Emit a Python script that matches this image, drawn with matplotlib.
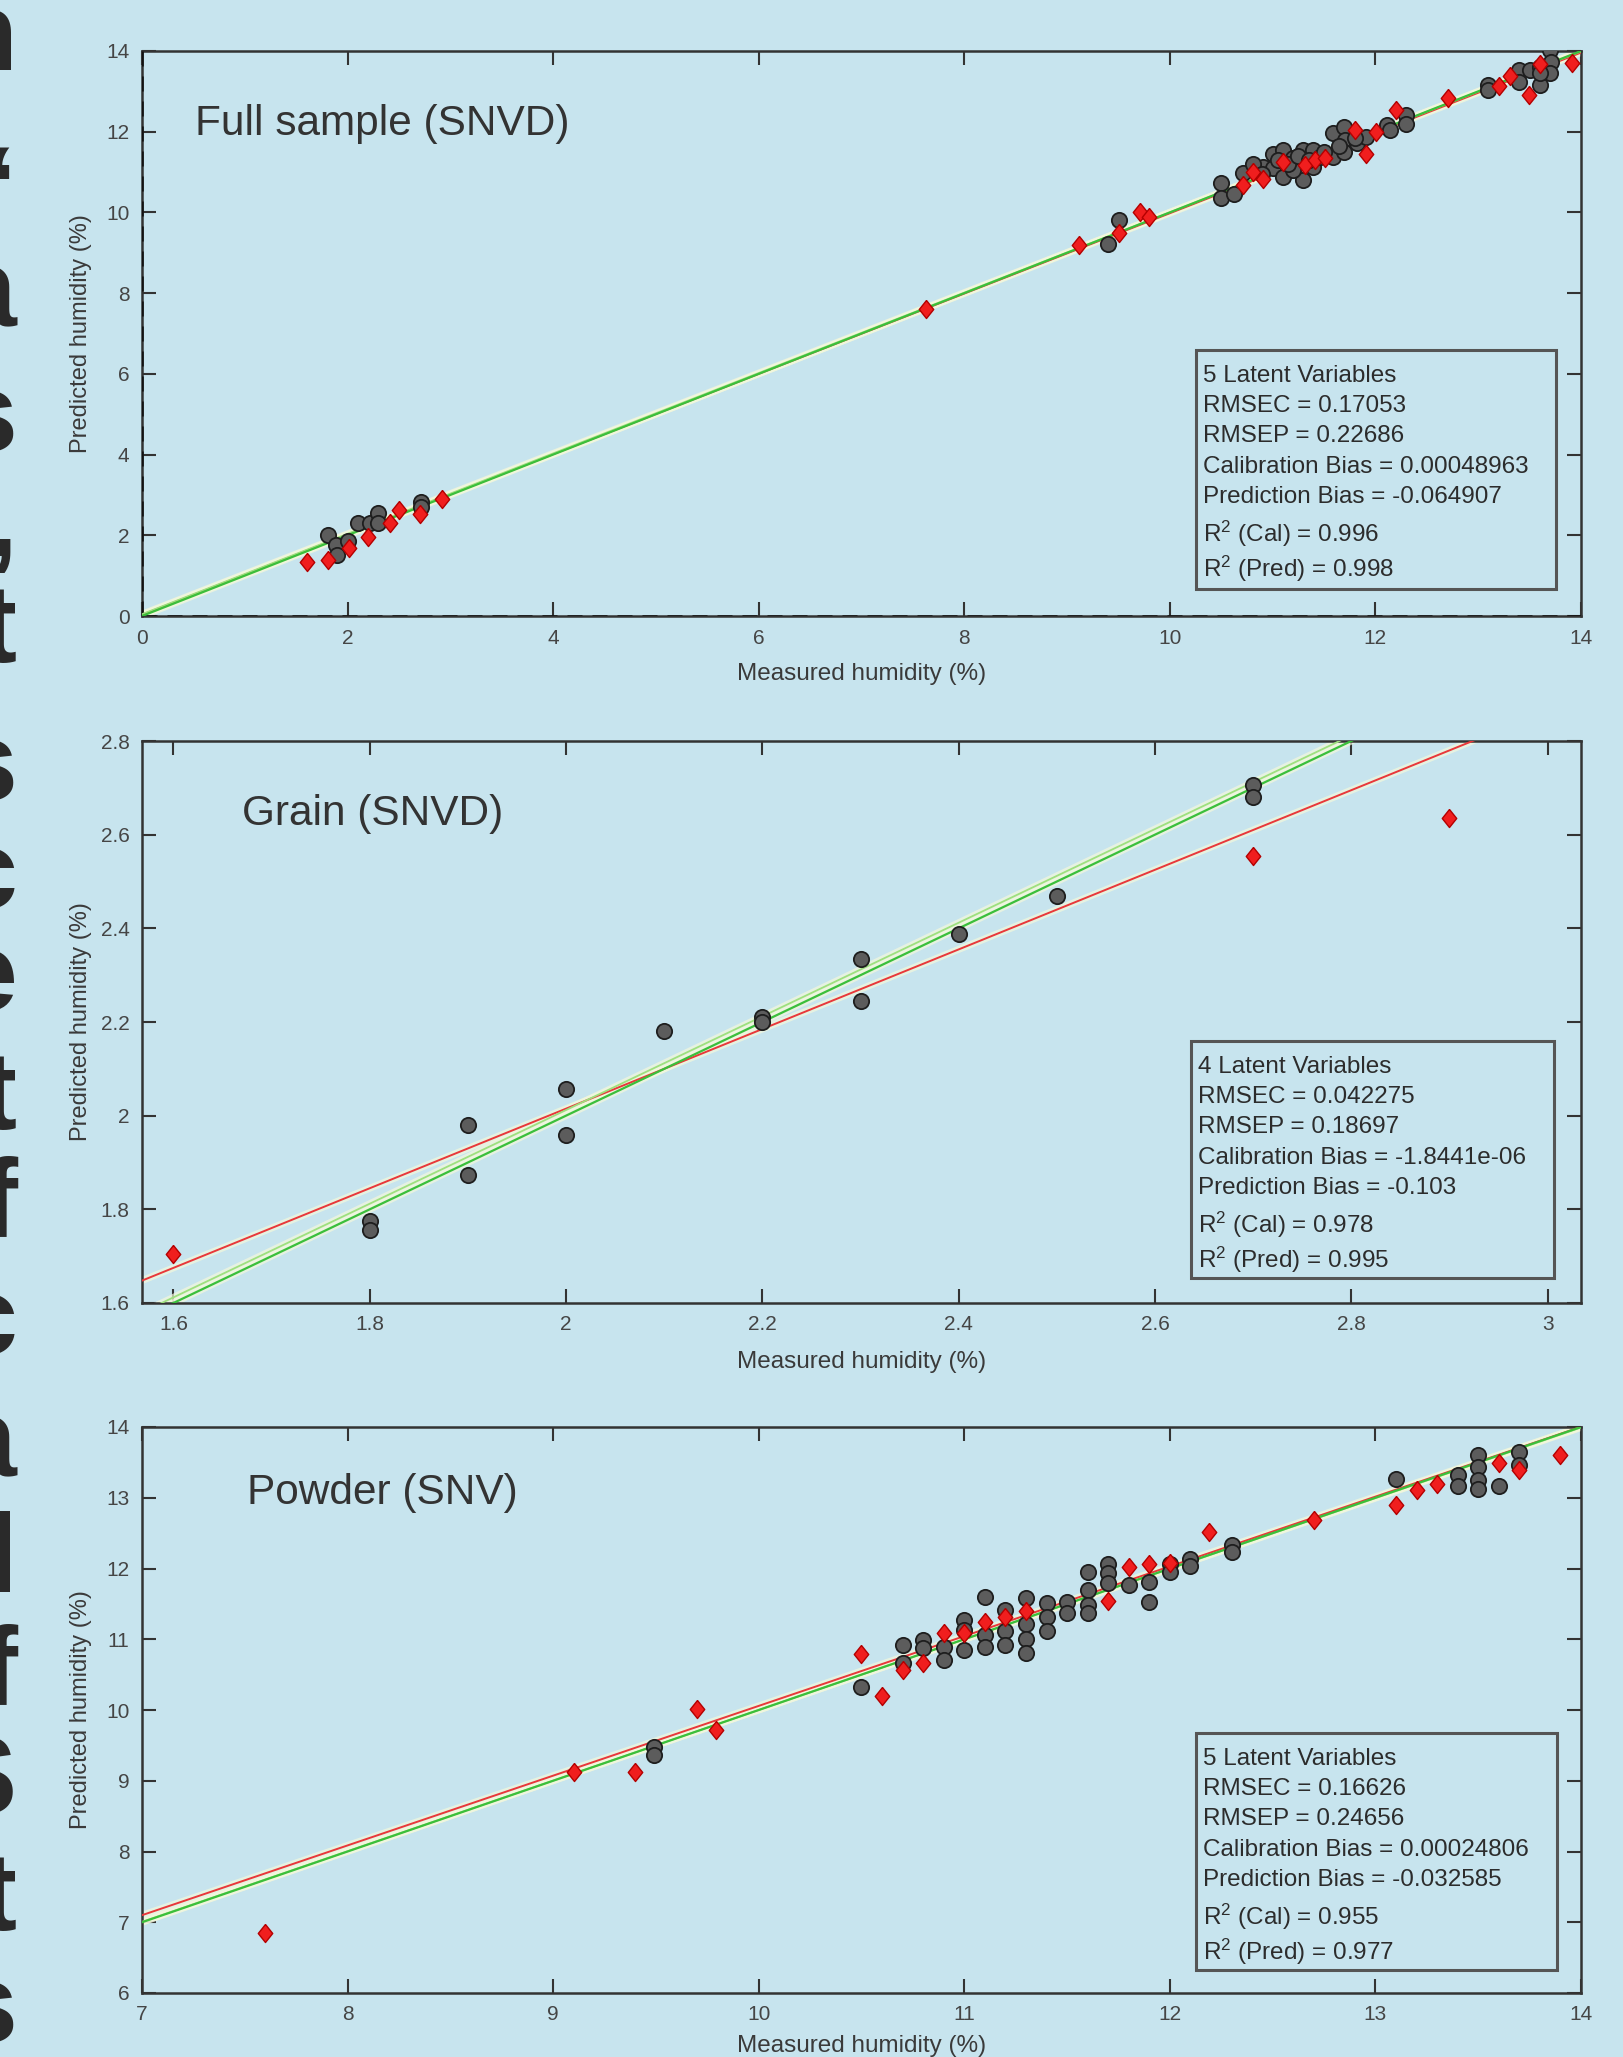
import matplotlib
matplotlib.use('Agg')
import matplotlib.pyplot as plt
from matplotlib.patches import Rectangle
import numpy as np

W, H = 1624, 2057
BG = '#c7e4ee'

# ---------------- data ----------------
# Panel 1: Full sample (SNVD)
full_cal_x = [1.81, 1.89, 1.90, 2.00, 2.10, 2.22, 2.30, 2.30, 2.71, 2.71,
              9.40, 9.51,
              10.50, 10.50, 10.62, 10.71, 11.00, 11.10, 10.91, 11.00, 11.10, 11.20,
              11.30, 11.39, 11.30, 11.20, 11.39, 11.46, 11.59, 11.59, 11.69, 11.70,
              11.69, 11.82, 11.91, 12.11, 12.14, 12.30, 12.30, 10.81, 10.90, 11.05,
              11.15, 11.25, 11.35, 11.50, 11.65, 11.80,
              13.10, 13.10, 13.40, 13.40, 13.50, 13.60, 13.70, 13.71, 13.70, 13.60, 13.60]
full_cal_y = [2.01, 1.76, 1.51, 1.85, 2.30, 2.31, 2.54, 2.30, 2.83, 2.71,
              9.23, 9.80,
              10.72, 10.35, 10.46, 10.97, 11.46, 11.54, 11.13, 11.09, 10.89, 11.34,
              11.54, 11.54, 10.80, 11.05, 11.13, 11.38, 11.38, 11.96, 12.12, 11.79,
              11.50, 11.71, 11.88, 12.16, 12.04, 12.41, 12.20, 11.20, 10.95, 11.30,
              11.20, 11.40, 11.30, 11.50, 11.65, 11.85,
              13.16, 13.03, 13.53, 13.24, 13.53, 13.61, 14.02, 13.73, 13.45, 13.16, 13.45]
full_pred_x = [1.61, 1.81, 2.01, 2.20, 2.41, 2.50, 2.70, 2.92, 7.63,
               9.12, 9.51, 9.71, 9.80, 10.71, 10.81, 10.91, 11.10, 11.31, 11.41,
               11.51, 11.80, 11.91, 12.01, 12.20, 12.71, 13.20, 13.31, 13.49, 13.60, 13.91]
full_pred_y = [1.35, 1.39, 1.68, 1.95, 2.31, 2.63, 2.53, 2.89, 7.60,
               9.19, 9.50, 10.02, 9.89, 10.68, 11.01, 10.84, 11.26, 11.18, 11.30,
               11.34, 12.04, 11.46, 12.00, 12.54, 12.83, 13.13, 13.38, 12.91, 13.69, 13.71]

# Panel 2: Grain (SNVD)
grain_cal_x = [1.80, 1.80, 1.90, 1.90, 2.00, 2.00, 2.10, 2.20, 2.20, 2.30, 2.30, 2.40, 2.50, 2.70, 2.70]
grain_cal_y = [1.775, 1.755, 1.98, 1.874, 2.058, 1.958, 2.18, 2.211, 2.20, 2.335, 2.245, 2.387, 2.47, 2.707, 2.68]
grain_pred_x = [1.60, 2.70, 2.90]
grain_pred_y = [1.704, 2.555, 2.635]

# Panel 3: Powder (SNV)
powder_cal_x = [9.49, 9.49, 10.50, 10.70, 10.70, 10.80, 10.80, 10.90, 10.90, 11.00, 11.00, 11.00,
                11.10, 11.10, 11.10, 11.20, 11.20, 11.20, 11.30, 11.30, 11.30, 11.30,
                11.40, 11.40, 11.40, 11.50, 11.50, 11.60, 11.60, 11.60, 11.60,
                11.70, 11.70, 11.70, 11.80, 11.90, 11.90, 12.00, 12.00, 12.10, 12.10,
                12.30, 12.30, 13.10, 13.40, 13.40, 13.50, 13.50, 13.50, 13.50,
                13.60, 13.70, 13.70]
powder_cal_y = [9.48, 9.36, 10.33, 10.92, 10.66, 10.99, 10.87, 10.89, 10.71, 11.27, 11.13, 10.85,
                11.60, 11.06, 10.89, 11.41, 11.11, 10.92, 11.58, 11.22, 11.01, 10.80,
                11.51, 11.32, 11.11, 11.53, 11.37, 11.95, 11.70, 11.48, 11.37,
                12.07, 11.93, 11.79, 11.77, 11.81, 11.52, 12.07, 11.95, 12.14, 12.03,
                12.33, 12.24, 13.27, 13.32, 13.16, 13.60, 13.44, 13.25, 13.13,
                13.16, 13.65, 13.46]
powder_pred_x = [7.60, 9.10, 9.40, 9.70, 9.79, 10.50, 10.60, 10.70, 10.80, 10.90, 11.00, 11.10,
                 11.20, 11.30, 11.70, 11.80, 11.90, 12.00, 12.19, 12.70, 13.10, 13.20,
                 13.30, 13.60, 13.70, 13.90]
powder_pred_y = [6.85, 9.13, 9.12, 10.02, 9.72, 10.79, 10.20, 10.57, 10.67, 11.09, 11.09, 11.24,
                 11.32, 11.40, 11.54, 12.02, 12.07, 12.08, 12.52, 12.68, 12.90, 13.11,
                 13.19, 13.49, 13.39, 13.60]

# fitted lines: (slope, intercept)
full_lines = {'target': (1.0, 0.0), 'cal': (0.996, 0.045), 'pred': (0.995, 0.03)}
grain_lines = {'target': (1.0, 0.0), 'cal': (1.0, 0.012), 'pred': (0.85, 0.315)}
powder_lines = {'target': (1.0, 0.0), 'cal': (0.998, 0.02), 'pred': (0.986, 0.198)}

stats_full = ['5 Latent Variables', 'RMSEC = 0.17053', 'RMSEP = 0.22686',
              'Calibration Bias = 0.00048963', 'Prediction Bias = -0.064907',
              'R$^{2}$ (Cal) = 0.996', 'R$^{2}$ (Pred) = 0.998']
stats_grain = ['4 Latent Variables', 'RMSEC = 0.042275', 'RMSEP = 0.18697',
               'Calibration Bias = -1.8441e-06', 'Prediction Bias = -0.103',
               'R$^{2}$ (Cal) = 0.978', 'R$^{2}$ (Pred) = 0.995']
stats_powder = ['5 Latent Variables', 'RMSEC = 0.16626', 'RMSEP = 0.24656',
                'Calibration Bias = 0.00024806', 'Prediction Bias = -0.032585',
                'R$^{2}$ (Cal) = 0.955', 'R$^{2}$ (Pred) = 0.977']

full_ticks = [0, 2, 4, 6, 8, 10, 12, 14]
full_ticklabels = ['0', '2', '4', '6', '8', '10', '12', '14']
grain_ticks = [1.6, 1.8, 2.0, 2.2, 2.4, 2.6, 2.8]
grain_yticklabels = ['1.6', '1.8', '2', '2.2', '2.4', '2.6', '2.8']
grain_xticks = [1.6, 1.8, 2.0, 2.2, 2.4, 2.6, 2.8, 3.0]
grain_xticklabels = ['1.6', '1.8', '2', '2.2', '2.4', '2.6', '2.8', '3']
powder_xticks = [7, 8, 9, 10, 11, 12, 13, 14]
powder_yticks = [6, 7, 8, 9, 10, 11, 12, 13, 14]

# last visible characters of the slide's text lines, cut by the left edge
left_chars = ['n', '\u201c', 'a', 's', ',', 't', 's', 'c', 'e', 't', 'f', 'c', 'a', 'l', 'f', 'S', 't', 's']
left_char_base = [70, 224, 326, 451, 556, 662, 800, 908, 1010, 1129, 1236, 1354, 1476, 1592, 1704, 1814, 1930, 2042]

# ---------------- style ----------------
plt.rcParams['font.family'] = ['Liberation Sans', 'DejaVu Sans']
plt.rcParams['mathtext.default'] = 'regular'

fig = plt.figure(figsize=(W / 100, H / 100), dpi=100, facecolor=BG)


def fx(x):
    return x / W


def fy(y):
    return 1 - y / H


DIAM = [(0, 1), (0.8, 0), (0, -1), (-0.8, 0), (0, 1)]
TXT = '#2c2c2c'


def make_axes(top, bottom):
    ax = fig.add_axes([fx(142), fy(bottom), (1581 - 142) / W, (bottom - top) / H])
    ax.set_facecolor('none')
    for s in ax.spines.values():
        s.set_color('#333333')
        s.set_linewidth(1.8)
    ax.tick_params(direction='in', length=10, width=1.5, colors='#333333',
                   labelcolor='#454545', labelsize=15, top=True, right=True, pad=9)
    return ax


def draw_lines(ax, lines, xlo, xhi):
    xs = np.array([xlo, xhi])
    for key in ['pred', 'cal', 'target']:
        m, b = lines[key]
        ax.plot(xs, m * xs + b, color='#f4f8dc', lw=5, alpha=0.7, zorder=2, solid_capstyle='butt')
    for key, col, lw in [('pred', '#e8383a', 1.4), ('cal', '#9ee07e', 1.3), ('target', '#3bbf3b', 1.6)]:
        m, b = lines[key]
        ax.plot(xs, m * xs + b, color=col, lw=lw, zorder=3)


def draw_points(ax, cx, cy, px, py):
    ax.plot(cx, cy, 'o', ms=11, mfc='#5c5c5c', mec='#1e1e1e', mew=1.3, zorder=4, ls='none')
    ax.plot(px, py, marker=DIAM, ms=13, mfc='#f01e1e', mec='#b40000', mew=1.0, zorder=5, ls='none')


def stat_box(left, top, right, bottom, lines):
    fig.add_artist(Rectangle((fx(left), fy(bottom)), (right - left) / W, (bottom - top) / H,
                             transform=fig.transFigure, fill=False, edgecolor='#555555', lw=2.2))
    offs = [32, 62, 92, 123, 153, 192, 227]
    for t, o in zip(lines, offs):
        fig.text(fx(left + 7), fy(top + o), t, fontsize=17.5, color=TXT, va='baseline', ha='left')


def label_axes(ax, xlab_y, top, bottom):
    ax.set_xlabel('Measured humidity (%)', fontsize=17.5, color='#3a3a3a')
    ax.xaxis.set_label_coords(0.5, -(xlab_y - bottom) / (bottom - top))
    ax.xaxis.label.set_va('center')
    ax.set_ylabel('Predicted humidity (%)', fontsize=17, color='#3a3a3a')
    ax.yaxis.set_label_coords(-(142 - 81) / 1439, 0.5)
    ax.yaxis.label.set_va('center')


# Panel 1
ax1 = make_axes(51, 616)
ax1.set_xlim(0, 14)
ax1.set_ylim(0, 14)
ax1.set_xticks(full_ticks, full_ticklabels)
ax1.set_yticks(full_ticks, full_ticklabels)
ax1.axhline(0, color='#111111', lw=1.8, dashes=(6, 4), zorder=3)
ax1.axvline(0, color='#111111', lw=1.8, dashes=(6, 4), zorder=3)
draw_lines(ax1, full_lines, 0, 14)
draw_points(ax1, full_cal_x, full_cal_y, full_pred_x, full_pred_y)
label_axes(ax1, 674, 51, 616)
fig.text(fx(195), fy(135), 'Full sample (SNVD)', fontsize=30.5, color='#333333', va='baseline')
stat_box(1196, 350, 1556, 589, stats_full)

# Panel 2
ax2 = make_axes(741, 1303)
ax2.set_xlim(1.568, 3.034)
ax2.set_ylim(1.6, 2.8)
ax2.set_xticks(grain_xticks, grain_xticklabels)
ax2.set_yticks(grain_ticks, grain_yticklabels)
draw_lines(ax2, grain_lines, 1.5, 3.1)
draw_points(ax2, grain_cal_x, grain_cal_y, grain_pred_x, grain_pred_y)
label_axes(ax2, 1362, 741, 1303)
fig.text(fx(242), fy(825), 'Grain (SNVD)', fontsize=30.5, color='#333333', va='baseline')
stat_box(1191, 1041, 1554, 1278, stats_grain)

# Panel 3
ax3 = make_axes(1427, 1993)
ax3.set_xlim(7, 14)
ax3.set_ylim(6, 14)
ax3.set_xticks(powder_xticks)
ax3.set_yticks(powder_yticks)
draw_lines(ax3, powder_lines, 7, 14)
draw_points(ax3, powder_cal_x, powder_cal_y, powder_pred_x, powder_pred_y)
label_axes(ax3, 2046, 1427, 1993)
fig.text(fx(247), fy(1504), 'Powder (SNV)', fontsize=30.5, color='#333333', va='baseline')
stat_box(1196, 1733, 1557, 1970, stats_powder)

# cropped slide text on the left edge
for ch, yb in zip(left_chars, left_char_base):
    fig.text(fx(17), fy(yb), ch, fontsize=80, fontweight='bold', color='#2a2a2a',
             ha='right', va='baseline', family=['Liberation Sans', 'DejaVu Sans'])

fig.savefig('out.png', dpi=100, facecolor=BG)
